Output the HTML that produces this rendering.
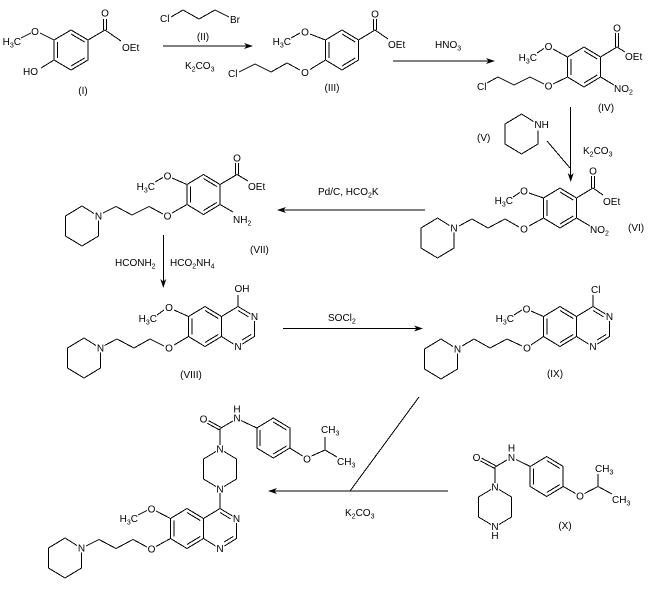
<!DOCTYPE html>
<html><head><meta charset="utf-8"><style>
html,body{margin:0;padding:0;background:#fff;}
svg{display:block;}
text{font-family:"Liberation Sans",Arial,sans-serif;font-size:10px;fill:#000;}
.m{text-anchor:middle;}
.e{text-anchor:end;}
.s{font-size:7px;}
</style></head><body>
<svg width="654" height="589" viewBox="0 0 654 589" xmlns="http://www.w3.org/2000/svg">
<g stroke="#000" stroke-width="1" fill="none" shape-rendering="crispEdges">
<!-- I -->
<polygon points="71,30 88,40 88,60 71,70 54,60 54,40"/>
<path d="M57.4,42V58 M71,34L84.6,42 M84.6,58L71,66"/>
<path d="M88,40L105,30 M103.5,30V19 M106.5,30V19 M105,30L121,41 M54,40L40,33 M21,38L31,33 M54,60L41,68"/>
<!-- II -->
<path d="M171,17L183,10L199,19L215,10L229,17"/>
<path d="M163,46H250"/>
<!-- III -->
<polygon points="342,30 358.5,40 358.5,60 342,70 325.5,60 325.5,40"/>
<path d="M328.8,42V58 M342,34L355.2,42 M355.2,58L342,66"/>
<path d="M358.5,40L375,30 M373.5,30V19 M376.5,30V19 M375,30L388,39 M325.5,40L310,34 M291,38L300,33 M325.5,60L310,69.5 M300,70L287,63L271,72L255,64L239,72"/>
<path d="M393,61H492"/>
<!-- IV -->
<polygon points="584,47 600.5,57 600.5,77 584,87 567.5,77 567.5,57"/>
<path d="M570.8,59V75 M584,51L597.2,59 M597.2,75L584,83"/>
<path d="M600.5,57L617,47 M615.5,47V33 M618.5,47V33 M617,47L625,52 M600.5,77L614,85 M567.5,57L553,49 M537,53L544,48.5 M567.5,77L553,84 M544,84L530,77L514,85L498,77L487,83"/>
<path d="M570.7,107V179"/>
<!-- V -->
<path d="M533.5,121.5L521.5,114L505,124V144L521.5,154L538,144V130.5"/>
<path d="M547,141L570,168"/>
<!-- VI -->
<polygon points="560,188 576.5,198 576.5,218 560,228 543.5,218 543.5,198"/>
<path d="M546.8,200V216 M560,192L573.2,200 M573.2,216L560,224"/>
<path d="M576.5,198L593,188 M591.5,188V176 M594.5,188V176 M593,188L603,195 M576.5,218L590,226 M543.5,198L529,193 M513,197L520,192.5 M543.5,218L529,226 M519,227L505,219L488,228L472,219L459,226"/>
<path d="M449.5,225.5L437.5,218L421,228V248L437.5,258L454,248V232.5"/>
<path d="M280,210H425"/>
<!-- VII -->
<polygon points="203.5,174.5 220,184.5 220,204.5 203.5,214.5 187,204.5 187,184.5"/>
<path d="M190.3,186.5V202.5 M203.5,178.5L216.7,186.5 M216.7,202.5L203.5,210.5"/>
<path d="M220,184.5L237,174.5 M235.5,174.5V163 M238.5,174.5V163 M237,174.5L248,181 M220,204.5L233,212 M187,184.5L172,178 M155,182L163,177.5 M187,204.5L172,213 M163,214L149,206.5L132,215L116,206.5L103,213"/>
<path d="M94,213.5L82,206L65.5,216V236L82,246L98.5,236V220.5"/>
<path d="M163.3,235V285"/>
<!-- VIII -->
<polygon points="205,306.5 221.5,316.5 221.5,336.5 205,346.5 188.5,336.5 188.5,316.5"/>
<path d="M191.8,318.5V334.5 M205,310.5L218.2,318.5 M218.2,334.5L205,342.5"/>
<path d="M221.5,316.5L238,306.5L250.5,314 M254.5,321V336.5L242.5,344 M233.5,344L221.5,336.5 M238,310.5L248.5,316.8 M242,340L251.2,334.5 M238,306.5V295"/>
<path d="M188.5,316.5L174,310 M157,315L164,310 M188.5,336.5L174,345 M164,346L150,339L134,348L117,339L104.5,345.5"/>
<path d="M96,345.5L84,338L67.5,348V368L84,378L100.5,368V352.5"/>
<path d="M283,328.5H420"/>
<!-- IX -->
<polygon points="560,306.5 576.5,316.5 576.5,336.5 560,346.5 543.5,336.5 543.5,316.5"/>
<path d="M546.8,318.5V334.5 M560,310.5L573.2,318.5 M573.2,334.5L560,342.5"/>
<path d="M576.5,316.5L593,306.5L605.5,314 M609.5,321V336.5L597.5,344 M588.5,344L576.5,336.5 M593,310.5L603.5,316.8 M597,340L606.2,334.5 M593,306.5V295"/>
<path d="M543.5,316.5L531,311 M514,315L522,310 M543.5,336.5L531,345 M522,346L507,339L490,348L474,339L462,346"/>
<path d="M453,346.5L441,339L424.5,349V369L441,379L457.5,369V353.5"/>
<!-- arrow 6 -->
<path d="M271,491H448 M350,491L419,397"/>
<!-- X -->
<path d="M499,489.5L511.5,497V517L499,524.5 M491,524.5L478.5,517V497L491,489.5"/>
<path d="M495,467V483 M495.7,465.7L481.7,458.2 M494.3,468.3L480.3,460.8 M495,467L507,460 M516,459.5L530.2,466.5"/>
<polygon points="546.7,456.5 563.2,466.5 563.2,486.5 546.7,496.5 530.2,486.5 530.2,466.5"/>
<path d="M533.5,468.5V484.5 M546.7,460.5L559.9,468.5 M559.9,484.5L546.7,492.5"/>
<path d="M563.2,486.5L575.5,493.5 M584.5,493.5L598,486.5V474 M598,486.5L612,494"/>
<!-- Final product -->
<path d="M224,451.5L236.5,459V479L224,486.5 M216,486.5L203.5,479V459L216,451.5"/>
<path d="M220,428.5V445 M220.7,427.2L208.7,420.7 M219.3,429.8L207.3,423.3 M220,428.5L233,421 M241,420.5L256.8,428"/>
<polygon points="273.3,418 289.8,428 289.8,448 273.3,458 256.8,448 256.8,428"/>
<path d="M260.1,430V446 M273.3,422L286.5,430 M286.5,446L273.3,454"/>
<path d="M289.8,448L302.5,456 M311.5,456L325,450V437 M325,450L337,457"/>
<polygon points="187,508.5 203.5,518.5 203.5,538.5 187,548.5 170.5,538.5 170.5,518.5"/>
<path d="M173.8,520.5V536.5 M187,512.5L200.2,520.5 M200.2,536.5L187,544.5"/>
<path d="M203.5,518.5L220,508.5L232.5,516 M236.5,523V538.5L224.5,546 M215.5,546L203.5,538.5 M220,512.5L230.5,518.8 M224,542L233.2,536.5 M220,493V508.5"/>
<path d="M170.5,518.5L156,511 M138,515L147,510.5 M170.5,538.5L156,546.5 M147,547L133,539.5L116,548.5L99,539.5L86,546"/>
<path d="M77,545.5L65,538L48.5,548V568L65,578L81.5,568V552.5"/>
</g>
<!-- arrowheads -->
<g fill="#000" stroke="none">
<polygon points="253,46 244,43 246.5,46 244,49"/>
<polygon points="495,61 486,58 488.5,61 486,64"/>
<polygon points="570.7,182 567.7,173 570.7,175.5 573.7,173"/>
<polygon points="277,210 286,207 283.5,210 286,213"/>
<polygon points="163.3,288 160.3,279 163.3,281.5 166.3,279"/>
<polygon points="423,328.5 414,325.5 416.5,328.5 414,331.5"/>
<polygon points="268,491 277,488 274.5,491 277,494"/>
</g>
<!-- I -->
<text class="m" x="105" y="16.5">O</text>
<text x="122" y="51">OEt</text>
<text class="m" x="35" y="35">O</text>
<text class="e" x="21" y="45">H<tspan class="s" dy="2.5">3</tspan><tspan dy="-2.5">C</tspan></text>
<text x="23" y="75">HO</text>
<text class="m" x="83" y="94">(I)</text>
<!-- II -->
<text x="160" y="22">Cl</text>
<text x="230" y="23">Br</text>
<text class="m" x="203" y="40">(II)</text>
<text x="185" y="69">K<tspan class="s" dy="2.5">2</tspan><tspan dy="-2.5">CO</tspan><tspan class="s" dy="2.5">3</tspan></text>
<!-- III -->
<text class="m" x="375" y="17.5">O</text>
<text x="388" y="48">OEt</text>
<text class="m" x="305" y="35.5">O</text>
<text class="e" x="291" y="45">H<tspan class="s" dy="2.5">3</tspan><tspan dy="-2.5">C</tspan></text>
<text class="m" x="305" y="76">O</text>
<text x="228" y="77">Cl</text>
<text class="m" x="332" y="91">(III)</text>
<text x="435" y="48">HNO<tspan class="s" dy="2.5">3</tspan></text>
<!-- IV -->
<text class="m" x="617" y="31.5">O</text>
<text x="625" y="60">OEt</text>
<text x="614" y="92">NO<tspan class="s" dy="2.5">2</tspan></text>
<text class="m" x="548.5" y="50">O</text>
<text class="e" x="537" y="61">H<tspan class="s" dy="2.5">3</tspan><tspan dy="-2.5">C</tspan></text>
<text class="m" x="548.5" y="89.5">O</text>
<text x="477" y="90">Cl</text>
<text class="m" x="606" y="111">(IV)</text>
<!-- V -->
<text x="534.4" y="128">NH</text>
<text x="477" y="141">(V)</text>
<text x="583" y="154">K<tspan class="s" dy="2.5">2</tspan><tspan dy="-2.5">CO</tspan><tspan class="s" dy="2.5">3</tspan></text>
<!-- VI -->
<text class="m" x="593" y="174.5">O</text>
<text x="603" y="205">OEt</text>
<text x="590" y="233">NO<tspan class="s" dy="2.5">2</tspan></text>
<text x="628" y="231">(VI)</text>
<text class="m" x="524" y="194.5">O</text>
<text class="e" x="513" y="204">H<tspan class="s" dy="2.5">3</tspan><tspan dy="-2.5">C</tspan></text>
<text class="m" x="524" y="232.5">O</text>
<text class="m" x="454" y="231.5">N</text>
<text x="318" y="195">Pd/C, HCO<tspan class="s" dy="2.5">2</tspan><tspan dy="-2.5">K</tspan></text>
<!-- VII -->
<text class="m" x="237" y="161.5">O</text>
<text x="248" y="190">OEt</text>
<text x="233" y="223">NH<tspan class="s" dy="2.5">2</tspan></text>
<text class="m" x="167.5" y="179.5">O</text>
<text class="e" x="155" y="190">H<tspan class="s" dy="2.5">3</tspan><tspan dy="-2.5">C</tspan></text>
<text class="m" x="167.5" y="219.5">O</text>
<text class="m" x="98.5" y="219.5">N</text>
<text x="250" y="253">(VII)</text>
<text x="115" y="266">HCONH<tspan class="s" dy="2.5">2</tspan></text>
<text x="170" y="266">HCO<tspan class="s" dy="2.5">2</tspan><tspan dy="-2.5">NH</tspan><tspan class="s" dy="2.5">4</tspan></text>
<!-- VIII -->
<text x="234.5" y="292">OH</text>
<text class="m" x="254.5" y="320">N</text>
<text class="m" x="238" y="350">N</text>
<text class="m" x="169" y="311">O</text>
<text class="e" x="157" y="322">H<tspan class="s" dy="2.5">3</tspan><tspan dy="-2.5">C</tspan></text>
<text class="m" x="169" y="351.5">O</text>
<text class="m" x="100.5" y="351.5">N</text>
<text class="m" x="191" y="378">(VIII)</text>
<text x="328" y="321">SOCl<tspan class="s" dy="2.5">2</tspan></text>
<!-- IX -->
<text x="591" y="293">Cl</text>
<text class="m" x="609.5" y="320">N</text>
<text class="m" x="593" y="350">N</text>
<text class="m" x="526.5" y="312.5">O</text>
<text class="e" x="514" y="322">H<tspan class="s" dy="2.5">3</tspan><tspan dy="-2.5">C</tspan></text>
<text class="m" x="527" y="351.5">O</text>
<text class="m" x="457.5" y="352.5">N</text>
<text class="m" x="555" y="377">(IX)</text>
<text x="345" y="516">K<tspan class="s" dy="2.5">2</tspan><tspan dy="-2.5">CO</tspan><tspan class="s" dy="2.5">3</tspan></text>
<!-- X -->
<text class="m" x="476.5" y="461">O</text>
<text class="m" x="511.5" y="461">N</text>
<text class="m" x="511.5" y="451.5">H</text>
<text class="m" x="495" y="490.5">N</text>
<text class="m" x="495" y="530">N</text>
<text class="m" x="495" y="539">H</text>
<text class="m" x="580" y="499.5">O</text>
<text x="595" y="472">CH<tspan class="s" dy="2.5">3</tspan></text>
<text x="612" y="503">CH<tspan class="s" dy="2.5">3</tspan></text>
<text class="m" x="565" y="529">(X)</text>
<!-- Final -->
<text class="m" x="203.5" y="422.5">O</text>
<text class="m" x="237" y="421.5">N</text>
<text class="m" x="237" y="412.5">H</text>
<text class="m" x="220" y="452.5">N</text>
<text class="m" x="220" y="492.5">N</text>
<text class="m" x="307" y="462.5">O</text>
<text x="321" y="433">CH<tspan class="s" dy="2.5">3</tspan></text>
<text x="337" y="465">CH<tspan class="s" dy="2.5">3</tspan></text>
<text class="m" x="236.5" y="522">N</text>
<text class="m" x="220" y="552">N</text>
<text class="m" x="151.5" y="512.5">O</text>
<text class="e" x="138" y="522">H<tspan class="s" dy="2.5">3</tspan><tspan dy="-2.5">C</tspan></text>
<text class="m" x="151.5" y="552.5">O</text>
<text class="m" x="81.5" y="551.5">N</text>
</svg>
</body></html>
